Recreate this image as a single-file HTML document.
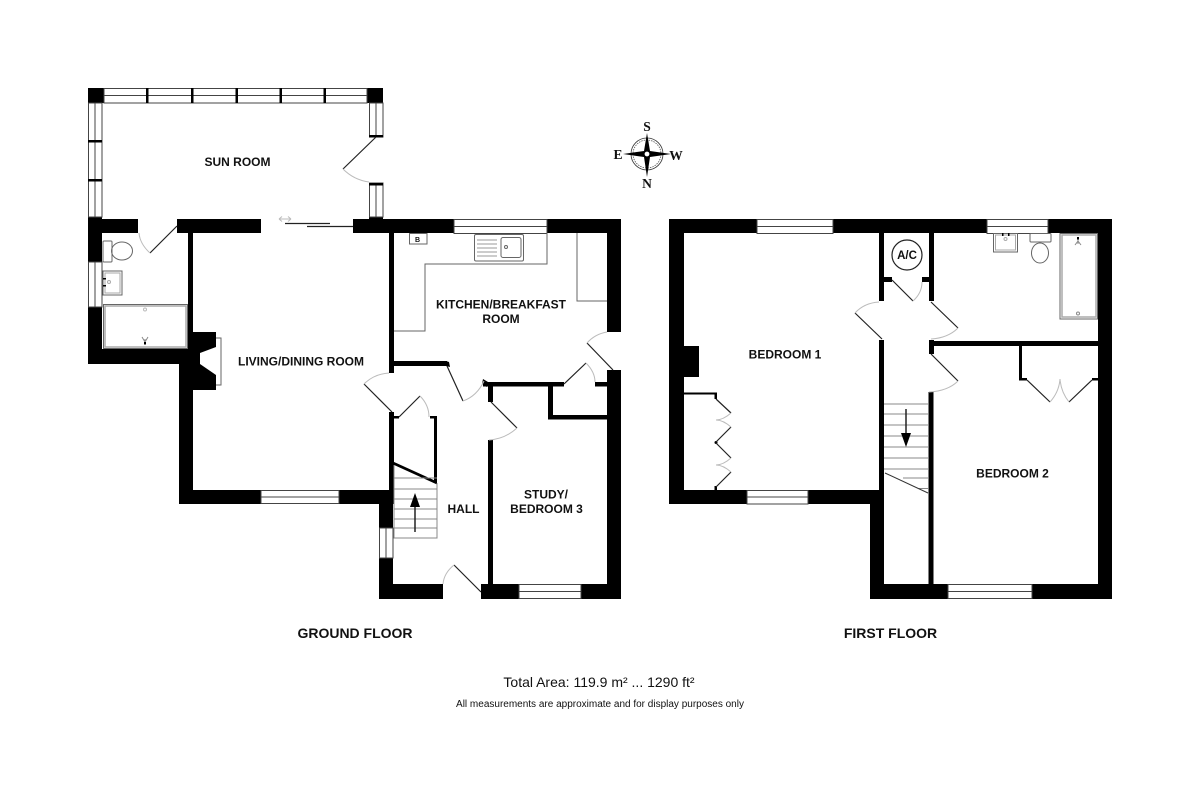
<!DOCTYPE html>
<html><head><meta charset="utf-8"><style>
html,body{margin:0;padding:0;background:#fff}
svg{display:block}
text{font-family:"Liberation Sans",sans-serif;fill:#111}
.l{font-weight:bold;font-size:12px;text-anchor:middle}
.f{font-weight:bold;font-size:14px;text-anchor:middle}
.c{font-family:"Liberation Serif",serif;font-weight:bold;font-size:13.5px;text-anchor:middle}
.w{fill:#000}
.win{fill:#fff;stroke:#444;stroke-width:1}
.d{stroke:#222;stroke-width:1.2;fill:none}
.a{stroke:#bbb;stroke-width:1;fill:none}
.g{stroke:#666;stroke-width:1;fill:none}
.t{stroke:#888;stroke-width:1;fill:none}
</style></head><body>
<svg width="1200" height="806" viewBox="0 0 1200 806" xmlns="http://www.w3.org/2000/svg">
<rect width="1200" height="806" fill="#fff"/>
<!-- GROUND FLOOR walls -->
<g class="w">
<rect x="88" y="88" width="16" height="15"/>
<rect x="367" y="88" width="16" height="15"/>
<rect x="88" y="217" width="14" height="45"/>
<rect x="88" y="219" width="50" height="14"/>
<rect x="177" y="219" width="84" height="14"/>
<rect x="353" y="219" width="101" height="14"/>
<rect x="369" y="216" width="14" height="3"/>
<rect x="547" y="219" width="74" height="14"/>
<rect x="607" y="219" width="14" height="113"/>
<rect x="607" y="370" width="14" height="229"/>
<rect x="88" y="307" width="14" height="57"/>
<rect x="88" y="349" width="105" height="15"/>
<rect x="188" y="233" width="5" height="116"/>
<rect x="179" y="349" width="14" height="154"/>
<rect x="179" y="490" width="82" height="14"/>
<rect x="339" y="490" width="54" height="14"/>
<rect x="389" y="233" width="5" height="140"/>
<rect x="389" y="412" width="5" height="92"/>
<rect x="379" y="490" width="14" height="38"/>
<rect x="379" y="558" width="14" height="41"/>
<rect x="379" y="584" width="64" height="15"/>
<rect x="481" y="584" width="38" height="15"/>
<rect x="581" y="584" width="40" height="15"/>
<rect x="488" y="440" width="5" height="144"/>
<rect x="488" y="382" width="5" height="20"/>
<rect x="483" y="382" width="81" height="4.5"/>
<rect x="394" y="361" width="53" height="5"/>
<path d="M446 361l3 1 1 5-4-1zM483 379l5 3-1 5-5-3z"/>
<rect x="548" y="382" width="5" height="37"/>
<rect x="548" y="415" width="59" height="4.5"/>
<rect x="595" y="382" width="12" height="4.5"/>
<rect x="394" y="416" width="5" height="2.5"/>
<rect x="430" y="416" width="7" height="2.5"/>
<rect x="434" y="416" width="3" height="67"/>
<path d="M393 461.5L437 481.5V484.5L393 464.5Z"/>
<!-- fireplace -->
<path d="M193 332H216V347L200 353V364L216 375V390H193Z"/>
</g>
<path d="M216 338H221V385H216" class="g"/>
<!-- windows ground -->
<g class="win">
<rect x="104" y="88.5" width="263" height="14.5"/>
<rect x="88.5" y="103" width="13.5" height="114"/>
<rect x="369.5" y="103" width="13.5" height="34"/>
<rect x="369.5" y="183" width="13.5" height="34"/>
<rect x="88.5" y="262" width="13.5" height="45"/>
<rect x="454" y="219.5" width="93" height="14"/>
<rect x="261" y="490.5" width="78" height="13"/>
<rect x="379.5" y="528" width="13.5" height="30"/>
<rect x="519" y="584.5" width="62" height="14"/>
</g>
<g stroke="#444" stroke-width="1" fill="none">
<path d="M104 95.5H367M95 103V217M376 103V137M376 183V217M95 262V307M454 226.5H547M261 497H339M386 528V558M519 591.5H581"/>
</g>
<g fill="#000">
<rect x="146" y="88" width="2.5" height="15"/><rect x="191" y="88" width="2.5" height="15"/>
<rect x="235.500" y="88" width="2.500" height="15"/><rect x="279.500" y="88" width="2.500" height="15"/><rect x="323.500" y="88" width="2.500" height="15"/>
<rect x="88" y="140" width="14" height="2.500"/><rect x="88" y="179" width="14" height="2.500"/>
<rect x="369" y="135" width="14" height="2.500"/><rect x="369" y="183" width="14" height="2.500"/>
</g>
<!-- doors ground -->
<g class="d">
<path d="M376 137L343 169M177 226L150 253M481 592L454 565M491 402L517 428M447 366L463 401M392 412L364 384M399 417L420 396M564 384L586 363M613 370L587 343"/>
<path d="M285 223.500H330M307 226.500H353"/>
</g>
<g class="a">
<path d="M343 169Q354 180 369 182M150 253Q140 244 139 233M454 565Q444 573 443 584M517 428Q505 439 489 440M463 401Q477 396 484 381M364 384Q374 374 389 373M420 396Q429 405 429 417M586 363Q595 372 595 382M587 343Q595 334 607 332"/>
<path d="M279 219H291M279 219l3-2.500M279 219l3 2.500M291 219l-3-2.500M291 219l-3 2.500"/>
</g>
<!-- kitchen -->
<g class="g">
<path d="M394 331H425V264H547V233M577 233V301H607"/>
<rect x="409.500" y="233.500" width="17.500" height="10.500"/>
<rect x="474.500" y="234.500" width="49" height="26.500" rx="1.500"/>
<rect x="501" y="237.500" width="20" height="20" rx="2"/>
<circle cx="506" cy="247" r="1.500"/>
<path d="M477 240H497M477 244H497M477 248H497M477 252H497M477 256H497" stroke="#999"/>
</g>
<text x="417.500" y="242" font-size="7" font-weight="bold" text-anchor="middle">B</text>
<!-- WC -->
<g class="g" stroke="#444">
<rect x="103" y="241" width="9" height="21" rx="1"/>
<ellipse cx="122" cy="251" rx="10.500" ry="9"/>
<rect x="103" y="271" width="19" height="24"/>
<rect x="105" y="273" width="15" height="20" stroke="#aaa"/>
<circle cx="109" cy="282" r="1.500" stroke="#aaa"/>
</g>
<path d="M103 278h3v1.500h-3zM103 285h3v1.500h-3z" fill="#000"/>
<rect x="103.500" y="304.500" width="84" height="44" fill="none" stroke="#666"/>
<rect x="105" y="306" width="81" height="41" fill="none" stroke="#aaa" stroke-width="1.500"/>
<circle cx="145" cy="309.500" r="1.500" class="a" stroke="#888"/>
<path d="M145 344V339M145 342L142 337M145 342L148 337" class="t"/>
<rect x="144" y="342" width="2" height="2.500" fill="#000"/>
<!-- stairs ground -->
<g class="t">
<path d="M394 465V538H437V483M394 478H437M394 489H437M394 499H437M394 509H437M394 519H437M394 528H437"/>
</g>
<path d="M415 532V505" stroke="#222" stroke-width="1.500"/>
<path d="M415 493L420 507H410Z" fill="#000"/>
<!-- FIRST FLOOR walls -->
<g class="w">
<rect x="669" y="219" width="15" height="285"/>
<rect x="669" y="219" width="88" height="14"/>
<rect x="833" y="219" width="154" height="14"/>
<rect x="1048" y="219" width="64" height="14"/>
<rect x="1098" y="219" width="14" height="380"/>
<rect x="669" y="490" width="78" height="14"/>
<rect x="808" y="490" width="76" height="14"/>
<rect x="870" y="490" width="14" height="109"/>
<rect x="870" y="584" width="78" height="15"/>
<rect x="1032" y="584" width="80" height="15"/>
<rect x="879" y="233" width="5" height="68"/>
<rect x="879" y="340" width="5" height="150"/>
<rect x="929" y="233" width="5" height="68"/>
<rect x="929" y="340" width="5" height="14"/>
<rect x="928.500" y="392" width="5" height="192"/>
<rect x="934" y="341" width="164" height="5"/>
<rect x="884" y="277" width="8" height="5"/>
<rect x="922" y="277" width="7" height="5"/>
<rect x="1019" y="346" width="3" height="34"/>
<rect x="1019" y="378" width="8" height="2.500"/>
<rect x="1092" y="378" width="6" height="2.500"/>
<rect x="684" y="346" width="15" height="31"/>
<rect x="684" y="392.500" width="33" height="2"/>
<rect x="714.500" y="392.500" width="2.500" height="6.500"/>
<rect x="714.500" y="486" width="2.500" height="4"/>
<circle cx="716" cy="442.500" r="1.500"/>
</g>
<g class="win">
<rect x="757" y="219.500" width="76" height="14"/>
<rect x="747" y="490.500" width="61" height="13.500"/>
<rect x="987" y="219.500" width="61" height="14"/>
<rect x="948" y="584.500" width="84" height="14"/>
</g>
<path d="M757 226.500H833M747 497H808M987 226.500H1048M948 591.500H1032" stroke="#444" fill="none"/>
<!-- doors first -->
<g class="d">
<path d="M882 339L855 313M931 302L958 328M931 354L958 381M892 280L913 301M1027 380L1050 402M1092 380L1069 402"/>
<path d="M716 399L731 413M731 427L716 442M716 443L731 458M731 472L716 487"/>
</g>
<g class="a">
<path d="M855 313Q864 303 879 302M958 328Q948 338 931 339M958 381Q948 391 929 392M913 301Q922 293 922 282M1050 402Q1059 392 1060 379Q1061 392 1069 402"/>
<path d="M731 413Q723 420 716 420Q723 420 731 427M731 458Q723 465 716 465Q723 465 731 472"/>
</g>
<circle cx="907" cy="255" r="15" fill="#fff" stroke="#222" stroke-width="1.200"/>
<text x="907" y="259" font-size="11.500" font-weight="bold" text-anchor="middle">A/C</text>
<!-- stairs first -->
<g class="t">
<path d="M884 404H928M884 414H928M884 425H928M884 436H928M884 447H928M884 458H928M884 469H928M903 478H928M919 488.500H928"/>
</g>
<path d="M885 473L928 493" stroke="#333" stroke-width="1" fill="none"/>
<path d="M906 409V436" stroke="#222" stroke-width="1.500"/>
<path d="M906 447L901 433H911Z" fill="#000"/>
<!-- Bathroom first -->
<g class="g" stroke="#444">
<rect x="993.500" y="233.500" width="24" height="18.500"/>
<rect x="995.500" y="235" width="20" height="15" stroke="#aaa"/>
<circle cx="1005.500" cy="239" r="1.500" stroke="#aaa"/>
<rect x="1030" y="233.500" width="21" height="8.500" rx="1"/>
<ellipse cx="1040" cy="253" rx="8.500" ry="10"/>
</g>
<path d="M1002 233h1.500v3h-1.500zM1008 233h1.500v3h-1.500z" fill="#000"/>
<rect x="1060" y="233.500" width="37.500" height="85.500" fill="none" stroke="#666"/>
<rect x="1062" y="235" width="34" height="82" fill="none" stroke="#aaa" stroke-width="1.500"/>
<circle cx="1078" cy="313.500" r="1.500" fill="none" stroke="#888"/>
<path d="M1078 239V244M1078 241L1075 245M1078 241L1081 245" class="t"/>
<rect x="1077" y="237" width="2" height="2.500" fill="#000"/>
<!-- compass -->
<g>
<circle cx="647" cy="154" r="16" fill="none" stroke="#333" stroke-width="0.800"/>
<circle cx="647" cy="154" r="14" fill="none" stroke="#555" stroke-width="0.800" stroke-dasharray="1.500 1"/>
<path d="M647 133L650 151L671 154L650 157L647 177L644 157L623 154L644 151Z" fill="#000"/>
<circle cx="647" cy="154" r="2.800" fill="#fff" stroke="#000" stroke-width="0.800"/>
<text class="c" x="647" y="131">S</text>
<text class="c" x="647" y="188">N</text>
<text class="c" x="618" y="159">E</text>
<text class="c" x="676" y="160">W</text>
</g>
<!-- labels -->
<text class="l" x="237.500" y="166">SUN ROOM</text>
<text class="l" x="301" y="365.500">LIVING/DINING ROOM</text>
<text class="l" x="501" y="308.500">KITCHEN/BREAKFAST</text>
<text class="l" x="501" y="323">ROOM</text>
<text class="l" x="463.500" y="513">HALL</text>
<text class="l" x="546" y="498.500">STUDY/</text>
<text class="l" x="546.500" y="513">BEDROOM 3</text>
<text class="l" x="785" y="358.500">BEDROOM 1</text>
<text class="l" x="1012.500" y="477.500">BEDROOM 2</text>
<text class="f" x="355" y="638">GROUND FLOOR</text>
<text class="f" x="890.500" y="638">FIRST FLOOR</text>
<text x="599" y="687" font-size="14" text-anchor="middle">Total Area: 119.9 m² ... 1290 ft²</text>
<text x="600" y="707" font-size="10" text-anchor="middle">All measurements are approximate and for display purposes only</text>
</svg>
</body></html>
